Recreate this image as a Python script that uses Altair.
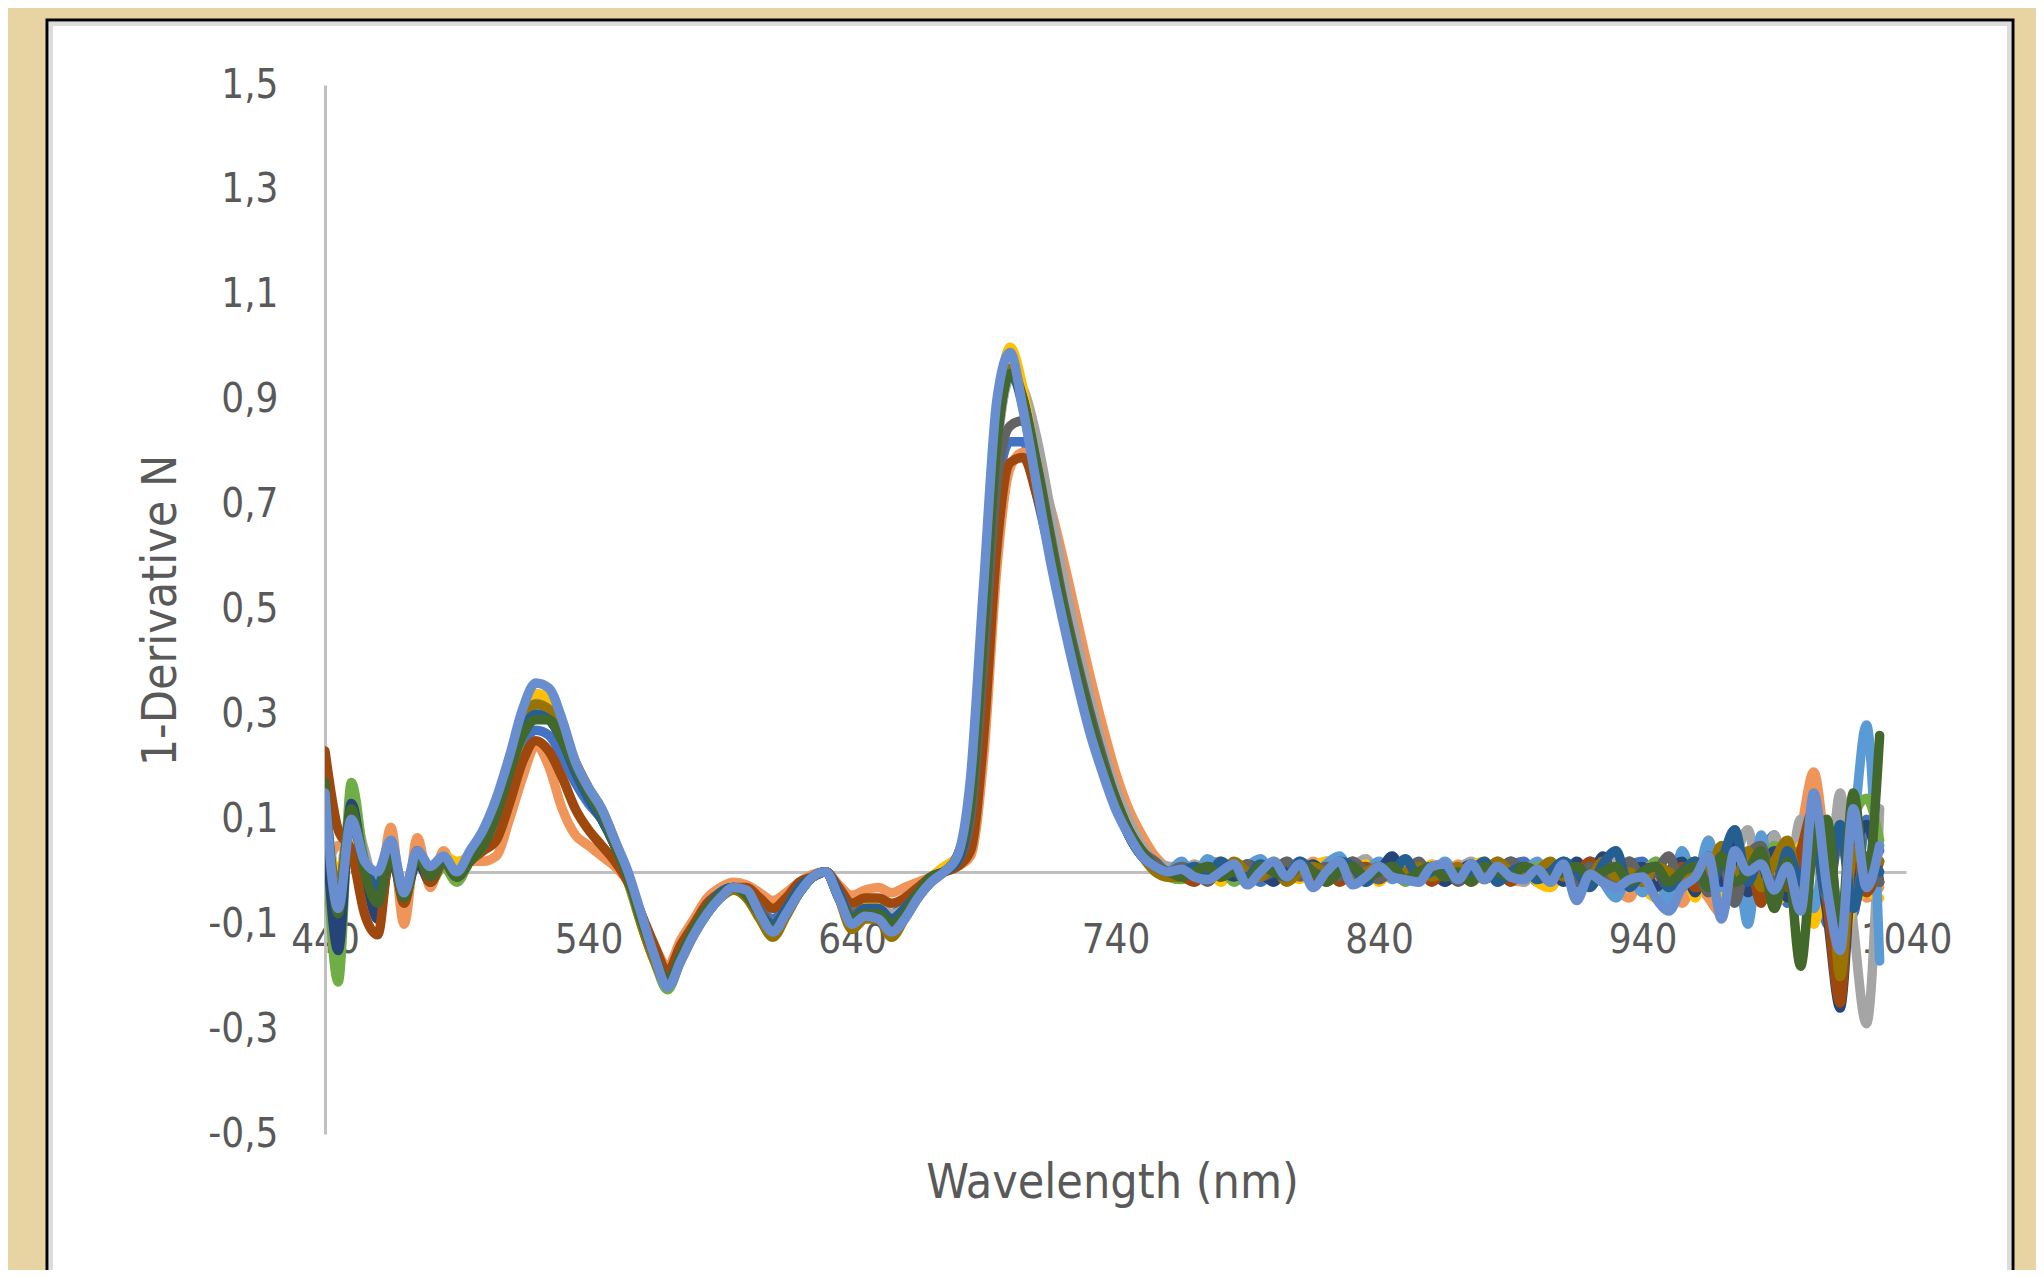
import altair as alt
import pandas as pd

# Wavelength grid (nm)
WAVELENGTHS = list(range(440, 1031, 5))

SERIES_NAMES = ["S01", "S02", "S03", "S04", "S05", "S06", "S07",
                "S08", "S09", "S10", "S11", "S12", "S13"]
SERIES_COLORS = ["#4472C4", "#F0955A", "#A5A5A5", "#FFC000", "#5B9BD5", "#70AD47",
                 "#264478", "#9E480E", "#636363", "#997300", "#255E91", "#43682B",
                 "#698ED0"]

# each series: 440-500 | 505-600 | 605-680 | 685-760 | 765-1030
S01 = ([0.10, -0.03, 0.08, 0.00, -0.03, 0.05, -0.05, 0.03, -0.01, 0.02, -0.01, 0.03, 0.06]
       + [0.11, 0.18, 0.24, 0.27, 0.26, 0.22, 0.17, 0.13, 0.10, 0.05, -0.01, -0.08, -0.15, -0.20, -0.16, -0.11, -0.07, -0.04, -0.03, -0.04]
       + [-0.07, -0.09, -0.06, -0.03, -0.01, 0.00, -0.04, -0.08, -0.07, -0.07, -0.08, -0.06, -0.03, -0.01, 0.00, 0.02]
       + [0.12, 0.40, 0.72, 0.82, 0.82, 0.72, 0.61, 0.50, 0.39, 0.29, 0.20, 0.13, 0.07, 0.03, 0.01, 0.00]
       + [-0.01, 0.01, 0.0, -0.015, 0.01, 0.0, -0.02, 0.01, 0.015, -0.01,
          0.0, 0.02, -0.015, 0.01, -0.02, 0.0, 0.02, -0.01, 0.015, 0.0,
          -0.02, 0.01, 0.0, 0.015, -0.015, 0.01, 0.02, -0.02, 0.0, 0.01,
          -0.03, 0.02, 0.0, -0.04, 0.01, 0.02, -0.03, 0.0, 0.03, -0.04,
          0.05, -0.02, 0.06, -0.05, 0.02, 0.07, -0.06, 0.03, 0.09, -0.10,
          0.14, -0.08, 0.10, 0.04])
S02 = ([0.00, 0.05, 0.03, -0.03, -0.05, 0.085, -0.10, 0.065, -0.03, 0.04, -0.01, 0.02, 0.02]
       + [0.03, 0.10, 0.18, 0.24, 0.20, 0.12, 0.07, 0.05, 0.03, 0.01, -0.02, -0.08, -0.14, -0.18, -0.13, -0.09, -0.05, -0.03, -0.02, -0.025]
       + [-0.04, -0.055, -0.04, -0.02, -0.005, 0.00, -0.025, -0.045, -0.035, -0.03, -0.04, -0.03, -0.02, -0.01, 0.00, 0.01]
       + [0.03, 0.22, 0.58, 0.77, 0.80, 0.77, 0.70, 0.60, 0.49, 0.38, 0.28, 0.19, 0.12, 0.07, 0.03, 0.01]
       + [0.01, -0.01, 0.015, 0.02, -0.01, 0.0, 0.015, -0.015, 0.01, 0.0,
          0.02, -0.01, 0.01, -0.02, 0.0, 0.015, -0.01, 0.005, -0.015, 0.01,
          -0.005, 0.015, -0.02, 0.0, 0.01, -0.015, -0.02, 0.01, -0.03, 0.0,
          -0.01, -0.02, 0.01, -0.03, -0.05, 0.0, -0.04, -0.02, -0.06, -0.02,
          -0.05, -0.08, 0.0, -0.06, 0.03, -0.03, 0.02, 0.08, 0.19, 0.02,
          -0.10, 0.06, -0.05, -0.03])
S03 = ([0.14, -0.02, 0.12, 0.04, -0.04, 0.04, -0.03, 0.03, 0.00, 0.03, 0.00, 0.03, 0.06]
       + [0.12, 0.20, 0.29, 0.33, 0.32, 0.27, 0.20, 0.15, 0.11, 0.05, -0.01, -0.08, -0.15, -0.21, -0.16, -0.11, -0.07, -0.04, -0.03, -0.04]
       + [-0.07, -0.10, -0.07, -0.03, -0.01, 0.00, -0.04, -0.08, -0.06, -0.06, -0.08, -0.07, -0.04, -0.01, 0.00, 0.02]
       + [0.10, 0.42, 0.80, 0.94, 0.92, 0.83, 0.70, 0.57, 0.45, 0.34, 0.24, 0.16, 0.10, 0.05, 0.02, 0.01]
       + [0.0, 0.015, -0.01, 0.0, 0.01, -0.02, 0.01, 0.0, 0.02, -0.01,
          0.015, -0.02, 0.0, 0.01, 0.025, -0.01, 0.0, -0.02, 0.01, 0.0,
          -0.01, 0.005, 0.02, -0.01, 0.0, 0.01, -0.02, 0.015, 0.0, -0.02,
          0.01, -0.02, 0.0, 0.02, -0.03, 0.01, -0.02, 0.0, 0.02, -0.03,
          0.04, -0.06, 0.02, 0.08, -0.04, 0.07, -0.02, 0.10, 0.05, -0.05,
          0.15, -0.10, -0.29, 0.12])
S04 = ([0.08, 0.00, 0.06, 0.01, -0.02, 0.03, -0.03, 0.02, 0.01, 0.03, 0.02, 0.03, 0.05]
       + [0.12, 0.21, 0.30, 0.34, 0.33, 0.28, 0.21, 0.16, 0.11, 0.05, -0.02, -0.10, -0.17, -0.21, -0.16, -0.11, -0.07, -0.04, -0.03, -0.04]
       + [-0.075, -0.10, -0.07, -0.03, -0.01, 0.00, -0.04, -0.09, -0.06, -0.07, -0.10, -0.08, -0.04, -0.01, 0.01, 0.03]
       + [0.15, 0.50, 0.86, 1.00, 0.92, 0.77, 0.63, 0.51, 0.40, 0.30, 0.21, 0.14, 0.08, 0.04, 0.01, -0.01]
       + [-0.01, 0.0, 0.01, -0.02, 0.015, 0.0, -0.01, 0.02, 0.0, -0.015,
          0.01, 0.02, -0.01, 0.0, 0.015, -0.02, 0.01, 0.0, -0.02, 0.015,
          0.0, -0.015, 0.01, 0.02, -0.01, 0.0, 0.01, -0.02, -0.03, 0.01,
          -0.01, -0.03, 0.0, -0.04, -0.01, -0.03, -0.05, -0.02, 0.03, -0.05,
          0.06, -0.04, 0.03, -0.08, 0.04, -0.06, -0.03, 0.05, -0.10, -0.02,
          -0.17, -0.06, -0.04, -0.05])
S05 = ([0.12, -0.05, 0.09, 0.02, -0.02, 0.05, -0.04, 0.03, 0.00, 0.02, 0.00, 0.03, 0.06]
       + [0.12, 0.20, 0.28, 0.31, 0.30, 0.25, 0.19, 0.14, 0.10, 0.05, -0.01, -0.09, -0.16, -0.21, -0.16, -0.11, -0.07, -0.04, -0.03, -0.04]
       + [-0.07, -0.10, -0.07, -0.03, -0.01, 0.00, -0.04, -0.09, -0.07, -0.07, -0.09, -0.07, -0.04, -0.01, 0.00, 0.03]
       + [0.15, 0.50, 0.85, 0.96, 0.88, 0.75, 0.62, 0.50, 0.39, 0.29, 0.20, 0.13, 0.08, 0.04, 0.01, 0.00]
       + [0.02, -0.01, 0.025, 0.0, -0.015, 0.01, 0.025, -0.01, 0.0, 0.02,
          -0.01, 0.015, 0.03, -0.01, 0.0, 0.02, -0.015, 0.01, 0.0, -0.01,
          0.02, -0.01, 0.0, 0.015, -0.02, 0.01, 0.0, 0.02, -0.02, 0.0,
          -0.04, 0.01, -0.02, -0.05, 0.0, -0.04, 0.02, -0.07, 0.04, -0.02,
          0.06, -0.03, 0.05, -0.10, 0.07, -0.04, 0.02, 0.04, -0.07, 0.05,
          -0.08, 0.08, 0.28, -0.17])
S06 = ([0.10, -0.21, 0.17, 0.02, -0.06, 0.04, -0.04, 0.02, -0.02, 0.01, -0.02, 0.02, 0.05]
       + [0.10, 0.18, 0.26, 0.30, 0.29, 0.25, 0.19, 0.14, 0.10, 0.05, -0.02, -0.10, -0.17, -0.225, -0.17, -0.12, -0.08, -0.05, -0.035, -0.05]
       + [-0.085, -0.12, -0.08, -0.04, -0.01, 0.00, -0.05, -0.10, -0.08, -0.08, -0.11, -0.08, -0.04, -0.015, 0.00, 0.03]
       + [0.14, 0.48, 0.84, 0.96, 0.89, 0.75, 0.61, 0.49, 0.38, 0.28, 0.20, 0.13, 0.07, 0.03, 0.01, -0.01]
       + [-0.015, 0.0, -0.01, 0.01, -0.02, 0.0, 0.01, -0.015, 0.0, 0.01,
          -0.02, 0.0, -0.01, 0.015, -0.015, 0.0, 0.01, -0.02, 0.0, 0.01,
          -0.015, 0.0, 0.01, -0.01, 0.02, -0.015, 0.0, 0.01, 0.0, 0.02,
          -0.01, 0.0, 0.01, -0.02, 0.015, 0.0, 0.02, -0.03, 0.01, 0.02,
          -0.02, 0.04, -0.03, 0.02, -0.05, 0.05, 0.0, -0.07, 0.10, 0.03,
          -0.12, 0.10, 0.14, 0.06])
S07 = ([0.12, -0.15, 0.13, 0.00, -0.09, 0.03, -0.05, 0.02, -0.02, 0.02, -0.01, 0.02, 0.05]
       + [0.11, 0.19, 0.27, 0.30, 0.29, 0.25, 0.19, 0.14, 0.10, 0.05, -0.01, -0.09, -0.16, -0.21, -0.16, -0.11, -0.07, -0.04, -0.03, -0.045]
       + [-0.08, -0.11, -0.08, -0.04, -0.01, 0.00, -0.05, -0.09, -0.08, -0.08, -0.10, -0.08, -0.04, -0.01, 0.00, 0.03]
       + [0.13, 0.46, 0.82, 0.95, 0.90, 0.77, 0.63, 0.50, 0.39, 0.29, 0.20, 0.13, 0.07, 0.03, 0.01, 0.00]
       + [0.0, -0.015, 0.01, 0.0, -0.01, 0.015, 0.0, -0.02, 0.01, 0.0,
          0.015, -0.01, 0.0, 0.02, -0.015, 0.0, 0.03, -0.01, 0.0, 0.01,
          -0.02, 0.0, 0.015, -0.01, 0.0, 0.02, -0.01, 0.0, 0.01, -0.02,
          0.02, -0.01, 0.03, -0.02, 0.0, 0.01, -0.03, 0.0, 0.02, -0.04,
          0.03, -0.02, 0.05, -0.04, 0.0, 0.04, -0.05, 0.02, 0.06, -0.08,
          -0.26, 0.03, 0.09, -0.02])
S08 = ([0.23, 0.08, 0.04, -0.08, -0.12, 0.05, -0.06, 0.04, -0.02, 0.02, -0.01, 0.02, 0.04]
       + [0.06, 0.13, 0.21, 0.25, 0.23, 0.18, 0.12, 0.08, 0.05, 0.02, -0.02, -0.08, -0.14, -0.19, -0.14, -0.10, -0.06, -0.04, -0.03, -0.03]
       + [-0.05, -0.07, -0.05, -0.02, -0.01, 0.00, -0.03, -0.06, -0.05, -0.05, -0.06, -0.05, -0.03, -0.01, 0.00, 0.01]
       + [0.04, 0.26, 0.62, 0.78, 0.79, 0.72, 0.62, 0.51, 0.40, 0.30, 0.21, 0.14, 0.08, 0.04, 0.01, -0.01]
       + [-0.01, -0.02, 0.0, -0.01, 0.005, -0.015, 0.0, 0.01, -0.015, 0.0,
          -0.01, 0.01, -0.02, 0.0, 0.01, -0.015, 0.0, -0.01, 0.01, -0.02,
          0.0, -0.01, 0.01, -0.015, 0.0, -0.02, 0.01, 0.0, -0.015, 0.01,
          0.0, 0.02, -0.02, 0.0, 0.02, -0.02, 0.0, -0.03, 0.01, -0.03,
          -0.02, 0.02, -0.04, 0.03, -0.06, 0.02, -0.03, 0.04, 0.12, -0.06,
          -0.25, 0.05, -0.04, 0.02])
S09 = ([0.14, -0.04, 0.11, 0.02, -0.04, 0.04, -0.04, 0.03, 0.00, 0.02, 0.00, 0.02, 0.05]
       + [0.11, 0.20, 0.27, 0.30, 0.30, 0.26, 0.20, 0.15, 0.11, 0.05, -0.01, -0.09, -0.16, -0.21, -0.16, -0.11, -0.07, -0.04, -0.03, -0.04]
       + [-0.07, -0.10, -0.07, -0.03, -0.01, 0.00, -0.04, -0.08, -0.07, -0.07, -0.09, -0.07, -0.04, -0.01, 0.00, 0.02]
       + [0.10, 0.40, 0.74, 0.85, 0.86, 0.78, 0.65, 0.52, 0.41, 0.31, 0.22, 0.14, 0.08, 0.04, 0.02, 0.00]
       + [0.01, 0.0, -0.02, 0.01, 0.0, 0.015, -0.01, 0.0, 0.02, -0.01,
          0.0, 0.01, -0.01, 0.02, 0.0, -0.015, 0.01, 0.0, 0.02, -0.01,
          0.01, -0.02, 0.0, 0.01, -0.01, 0.02, 0.0, -0.01, 0.015, 0.0,
          -0.02, 0.01, 0.0, -0.02, 0.02, -0.01, 0.0, 0.03, -0.03, 0.01,
          -0.04, 0.02, -0.06, 0.03, 0.05, -0.03, 0.04, -0.02, 0.08, -0.05,
          0.07, -0.06, 0.03, -0.02])
S10 = ([0.09, -0.03, 0.10, 0.01, -0.03, 0.04, -0.04, 0.03, 0.00, 0.02, 0.00, 0.02, 0.05]
       + [0.12, 0.20, 0.29, 0.32, 0.31, 0.27, 0.21, 0.16, 0.12, 0.06, -0.01, -0.10, -0.17, -0.215, -0.17, -0.12, -0.08, -0.05, -0.035, -0.05]
       + [-0.09, -0.125, -0.085, -0.04, -0.01, 0.00, -0.05, -0.11, -0.09, -0.09, -0.125, -0.09, -0.05, -0.02, 0.00, 0.03]
       + [0.13, 0.47, 0.83, 0.96, 0.90, 0.76, 0.62, 0.50, 0.39, 0.29, 0.20, 0.13, 0.07, 0.03, 0.00, -0.01]
       + [-0.01, 0.01, 0.0, -0.01, 0.02, 0.0, -0.01, 0.01, -0.02, 0.0,
          0.01, 0.0, 0.015, -0.01, 0.0, 0.01, -0.01, 0.0, 0.01, -0.01,
          0.0, 0.01, -0.01, 0.0, 0.02, 0.0, -0.01, 0.0, 0.02, -0.01,
          0.0, -0.01, 0.02, -0.01, 0.0, -0.02, 0.01, 0.0, -0.02, 0.02,
          0.0, 0.05, -0.02, 0.04, -0.03, 0.02, 0.06, -0.04, 0.05, 0.09,
          -0.20, 0.04, 0.01, 0.02])
S11 = ([0.11, -0.06, 0.10, 0.01, -0.03, 0.05, -0.04, 0.03, 0.00, 0.02, 0.00, 0.03, 0.05]
       + [0.11, 0.19, 0.27, 0.30, 0.29, 0.25, 0.19, 0.14, 0.10, 0.05, -0.01, -0.09, -0.16, -0.21, -0.16, -0.11, -0.07, -0.04, -0.03, -0.04]
       + [-0.08, -0.10, -0.07, -0.03, -0.01, 0.00, -0.04, -0.09, -0.07, -0.07, -0.09, -0.07, -0.04, -0.01, 0.00, 0.02]
       + [0.13, 0.47, 0.83, 0.95, 0.89, 0.76, 0.62, 0.50, 0.39, 0.29, 0.20, 0.13, 0.07, 0.03, 0.01, 0.00]
       + [0.0, 0.01, -0.01, 0.02, 0.0, -0.01, 0.015, 0.0, -0.01, 0.02,
          0.0, -0.01, 0.02, 0.01, -0.02, 0.01, 0.0, 0.025, -0.01, 0.0,
          0.01, -0.01, 0.0, 0.02, -0.02, 0.0, 0.01, -0.015, 0.0, 0.02,
          0.0, -0.03, 0.015, 0.04, -0.03, 0.0, 0.01, -0.03, 0.0, 0.02,
          -0.03, 0.02, 0.08, -0.02, 0.03, -0.05, 0.04, -0.02, 0.07, -0.04,
          0.09, -0.07, 0.02, 0.0])
S12 = ([0.17, -0.08, 0.12, 0.00, -0.06, 0.04, -0.05, 0.03, -0.01, 0.02, -0.01, 0.02, 0.05]
       + [0.11, 0.19, 0.26, 0.29, 0.29, 0.25, 0.20, 0.15, 0.11, 0.05, -0.01, -0.09, -0.16, -0.21, -0.16, -0.11, -0.07, -0.045, -0.03, -0.045]
       + [-0.08, -0.11, -0.08, -0.04, -0.01, 0.00, -0.05, -0.09, -0.08, -0.08, -0.10, -0.08, -0.04, -0.01, 0.00, 0.03]
       + [0.13, 0.46, 0.82, 0.95, 0.90, 0.78, 0.64, 0.51, 0.40, 0.30, 0.21, 0.14, 0.08, 0.04, 0.01, 0.00]
       + [-0.01, 0.0, 0.01, -0.01, 0.0, -0.02, 0.01, 0.0, -0.01, 0.01,
          0.0, -0.02, 0.0, 0.01, -0.01, 0.0, 0.01, -0.015, 0.0, 0.01,
          -0.01, 0.0, -0.02, 0.01, 0.0, -0.01, 0.01, 0.0, -0.01, 0.0,
          0.01, -0.01, 0.0, 0.01, -0.02, 0.0, 0.01, -0.02, 0.0, 0.01,
          -0.03, 0.03, -0.02, 0.0, 0.04, -0.07, 0.02, -0.18, 0.06, 0.10,
          -0.12, 0.15, -0.02, 0.26])
S13 = ([0.15, -0.07, 0.10, 0.02, 0.00, 0.06, -0.04, 0.04, 0.01, 0.03, 0.00, 0.04, 0.08]
       + [0.14, 0.22, 0.31, 0.36, 0.35, 0.29, 0.21, 0.16, 0.12, 0.06, 0.00, -0.08, -0.16, -0.22, -0.17, -0.12, -0.08, -0.05, -0.03, -0.035]
       + [-0.08, -0.115, -0.08, -0.04, -0.01, 0.00, -0.05, -0.10, -0.085, -0.09, -0.115, -0.09, -0.05, -0.02, 0.00, 0.03]
       + [0.18, 0.55, 0.90, 0.99, 0.88, 0.74, 0.60, 0.48, 0.37, 0.27, 0.19, 0.12, 0.07, 0.03, 0.01, 0.00]
       + [0.005, -0.01, -0.015, 0.0, 0.015, -0.025, 0.0, 0.02, -0.01, 0.015,
          -0.03, 0.0, 0.02, -0.025, -0.01, 0.01, -0.01, -0.015, -0.02, 0.01,
          0.015, -0.015, 0.015, -0.015, 0.01, -0.01, -0.015, 0.005, -0.02, 0.015,
          -0.055, -0.005, -0.02, -0.03, -0.015, -0.01, -0.05, -0.075, -0.03, -0.01,
          0.03, -0.09, 0.04, 0.0, 0.015, -0.035, 0.01, -0.075, 0.15, -0.03,
          -0.15, 0.12, -0.03, 0.05])

SERIES_VALUES = [S01, S02, S03, S04, S05, S06, S07, S08, S09, S10, S11, S12, S13]

X_TICKS = [440, 540, 640, 740, 840, 940, 1040]
Y_TICKS = [-0.5, -0.3, -0.1, 0.1, 0.3, 0.5, 0.7, 0.9, 1.1, 1.3, 1.5]

rows = []
for name, vals in zip(SERIES_NAMES, SERIES_VALUES):
    assert len(vals) == len(WAVELENGTHS), (name, len(vals))
    for w, v in zip(WAVELENGTHS, vals):
        rows.append({"wl": w, "value": v, "series": name})
df = pd.DataFrame(rows)

FONT = "Liberation Sans Narrow, Arial Narrow, DejaVu Sans Condensed, sans-serif"
TEXT = "#595959"
AXIS = "#BFBFBF"
BEIGE = "#E8D4A2"

W, H = 1581, 1049
PAD = {"left": 317, "top": 77, "right": 130, "bottom": 136}

one = alt.Data(values=[{"k": 1}])

def frame_rect(x0, x1, y0, y1, **kw):
    return alt.Chart(one).mark_rect(**kw).encode(
        x=alt.value(x0), x2=alt.value(x1), y=alt.value(y0), y2=alt.value(y1))

beige_top = frame_rect(-317, 1711, -77, -65, fill=BEIGE)
beige_left = frame_rect(-317, -278, -77, 1185, fill=BEIGE)
beige_right = frame_rect(1688, 1711, -77, 1185, fill=BEIGE)
border = frame_rect(-278, 1688, -65, 1300, fill="transparent", stroke="#000000", strokeWidth=3)
inner = frame_rect(-274, 1684, -61, 1300, fill="transparent", stroke="#DCDCDC", strokeWidth=4)

lines = alt.Chart(df).mark_line(
    strokeWidth=9.5, interpolate="monotone", strokeCap="round", strokeJoin="round", clip=True
).encode(
    x=alt.X("wl:Q",
            scale=alt.Scale(domain=[440, 1040], nice=False, zero=False),
            axis=alt.Axis(values=X_TICKS, format="d", offset=-262,
                          domainColor=AXIS, domainWidth=3, ticks=False, tickSize=0,
                          grid=False, labelPadding=48, labelFontSize=40,
                          labelColor=TEXT, labelFont=FONT, labelFlush=False,
                          labelOverlap=False, labelBound=False,
                          title="Wavelength (nm)", titleFont=FONT, titleFontSize=48,
                          titleColor=TEXT, titleFontWeight="normal",
                          titleX=787, titleY=325, titleAlign="center",
                          titleBaseline="alphabetic")),
    y=alt.Y("value:Q",
            scale=alt.Scale(domain=[-0.5, 1.5], nice=False, zero=False),
            axis=alt.Axis(values=Y_TICKS,
                          labelExpr="replace(replace(format(datum.value, '.1f'), '.', ','), '\u2212', '-')",
                          domainColor=AXIS, domainWidth=3, ticks=False, tickSize=0,
                          grid=False, labelPadding=47, labelFontSize=40,
                          labelColor=TEXT, labelFont=FONT, labelFlush=False,
                          labelOverlap=False, labelBound=False,
                          title="1-Derivative N", titleFont=FONT, titleFontSize=48,
                          titleColor=TEXT, titleFontWeight="normal", titleAngle=270,
                          titleX=-150, titleY=525, titleAlign="center",
                          titleBaseline="alphabetic")),
    color=alt.Color("series:N",
                    scale=alt.Scale(domain=SERIES_NAMES, range=SERIES_COLORS),
                    legend=None),
)

chart = alt.layer(beige_top, beige_left, beige_right, lines, inner, border).properties(
    width=W, height=H,
    background="#FFFFFF",
    padding=PAD,
    autosize=alt.AutoSizeParams(type="none"),
).configure_view(strokeWidth=0)

chart.save("out.html", embed_options={"renderer": "svg", "actions": False})
